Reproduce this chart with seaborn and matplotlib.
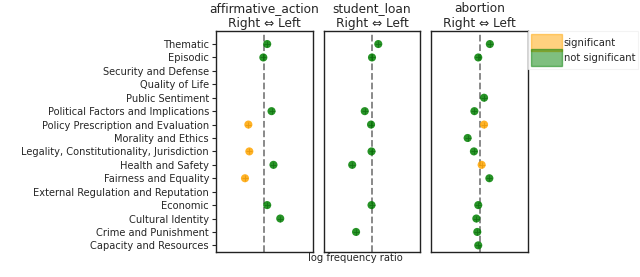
import numpy as np
import pandas as pd
import matplotlib
matplotlib.use("Agg")
import matplotlib.pyplot as plt
import matplotlib.patches as mpatches
import seaborn as sns

categories = [
    "Thematic", "Episodic", "Security and Defense", "Quality of Life",
    "Public Sentiment", "Political Factors and Implications",
    "Policy Prescription and Evaluation", "Morality and Ethics",
    "Legality, Constitutionality, Jurisdiction", "Health and Safety",
    "Fairness and Equality", "External Regulation and Reputation",
    "Economic", "Cultural Identity", "Crime and Punishment",
    "Capacity and Resources",
]
topics = ["affirmative_action", "student_loan", "abortion"]

nan = np.nan
# log frequency ratio per category (NaN = no point)
affirmative_ratio = [0.06, -0.02, nan, nan, nan, 0.15, -0.33, nan,
                     -0.31, 0.19, -0.40, nan, 0.06, 0.33, nan, nan]
affirmative_sig = [0, 0, 0, 0, 0, 0, 1, 0, 1, 0, 1, 0, 0, 0, 0, 0]

student_ratio = [0.13, 0.00, nan, nan, nan, -0.15, -0.02, nan,
                 -0.01, -0.41, nan, nan, -0.01, nan, -0.33, nan]
student_sig = [0] * 16

abortion_ratio = [0.21, -0.03, nan, nan, 0.09, -0.11, 0.09, -0.25,
                  -0.12, 0.04, 0.20, nan, -0.03, -0.07, -0.05, -0.03]
abortion_sig = [0, 0, 0, 0, 0, 0, 1, 0, 0, 1, 0, 0, 0, 0, 0, 0]

ratios = [affirmative_ratio, student_ratio, abortion_ratio]
sigs = [affirmative_sig, student_sig, abortion_sig]

rows = []
for t, r, s in zip(topics, ratios, sigs):
    for i, c in enumerate(categories):
        rows.append({"topic": t, "category": c, "pos": i, "ratio": r[i],
                     "significant": "significant" if s[i] else "not significant"})
df = pd.DataFrame(rows).dropna(subset=["ratio"])

sns.set_style("white")
plt.rcParams["font.family"] = ["DejaVu Sans"]

palette = {"significant": "orange", "not significant": "green"}
cross = {"significant": "#d98c00", "not significant": "#0a5c0a"}

fig, axes = plt.subplots(1, 3, figsize=(6.4, 2.77), dpi=100, sharey=True)
fig.subplots_adjust(left=0.3375, right=0.825, top=0.888, bottom=0.09, wspace=0.115)

for k, (ax, t) in enumerate(zip(axes, topics)):
    d = df[df["topic"] == t]
    sns.scatterplot(data=d, x="ratio", y="pos", hue="significant", palette=palette,
                    s=34, edgecolor="none", alpha=0.85, legend=False, ax=ax)
    for sig, g in d.groupby("significant"):
        ax.scatter(g["ratio"], g["pos"], marker="+", s=14, color=cross[sig],
                   linewidths=0.6, alpha=0.6, zorder=3)
    ax.axvline(0, color="grey", ls="--", lw=1.3, zorder=0)
    ax.set_xlim(-1, 1)
    ax.set_ylim(15.5, -0.97)
    ax.set_xticks([])
    ax.set_xlabel("")
    ax.set_ylabel("")
    ax.set_title(f"{t}\nRight \u21d4 Left", fontsize=8.7, pad=3, linespacing=1.15)
    for sp in ax.spines.values():
        sp.set_color("#222222")
        sp.set_linewidth(1.0)
    if k == 0:
        ax.set_yticks(range(len(categories)))
        ax.set_yticklabels(categories, fontsize=7.1)
        ax.tick_params(axis="y", left=True, length=3, width=0.8, pad=2)
    else:
        ax.tick_params(axis="y", left=False)

fig.text(355 / 640, 1 - 258 / 277, "log frequency ratio", fontsize=7.2,
         ha="center", va="center")

handles = [mpatches.Patch(color="orange", alpha=0.5, label="significant"),
           mpatches.Patch(color="green", alpha=0.5, label="not significant")]
leg = axes[2].legend(handles=handles, loc="upper left", bbox_to_anchor=(1.0, 1.0),
                     frameon=True, fontsize=7.2, handlelength=3.1, handleheight=2.24,
                     labelspacing=-0.2, handletextpad=0.15, borderpad=0.3,
                     borderaxespad=0.0, fancybox=False)
leg.get_frame().set_edgecolor("#f0f0f0")
leg.get_frame().set_linewidth(0.8)

fig.savefig("out.png", dpi=100)
